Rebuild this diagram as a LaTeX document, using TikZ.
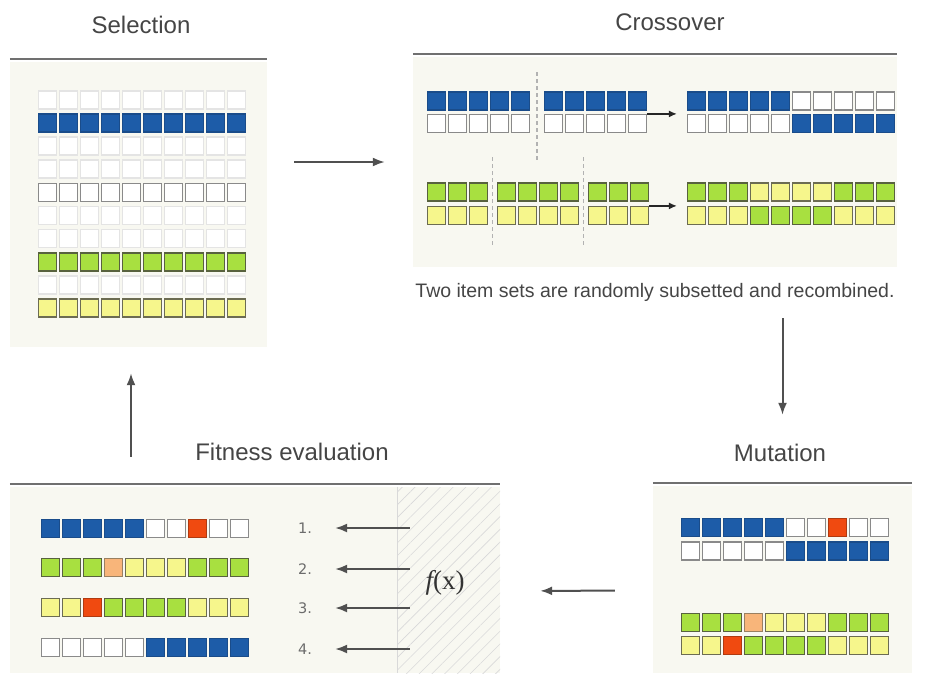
\documentclass[tikz,border=0pt]{standalone}
\usepackage{fontspec}
\setmainfont{Liberation Sans}
\newfontfamily\numfont{DejaVu Sans}
\newfontfamily\fxfont{Liberation Serif}
\usetikzlibrary{positioning,arrows.meta,patterns.meta}

\definecolor{paper}{HTML}{F8F8F1}
\definecolor{txt}{HTML}{454545}
\definecolor{rulegray}{HTML}{707070}
\definecolor{arrgray}{HTML}{505050}
\definecolor{colB}{HTML}{1D5CA8}\definecolor{edgeB}{HTML}{1A4C8A}
\definecolor{colW}{HTML}{FFFFFF}\definecolor{edgeW}{HTML}{8A8A8A}
\definecolor{colF}{HTML}{FFFFFF}\definecolor{edgeF}{HTML}{E4E4E4}
\definecolor{colG}{HTML}{A8E040}\definecolor{edgeG}{HTML}{58623E}
\definecolor{colY}{HTML}{F6F68C}\definecolor{edgeY}{HTML}{6C6C52}
\definecolor{colR}{HTML}{F04A10}\definecolor{edgeR}{HTML}{B03A10}
\definecolor{colO}{HTML}{F8B57A}\definecolor{edgeO}{HTML}{9A8060}

\begin{document}
\begin{tikzpicture}[
  x=1pt, y=-1pt,
  ttl/.style={font=\fontsize{24}{28}\selectfont, text=txt},
  captext/.style={font=\fontsize{19.5}{23}\selectfont, text=txt},
  num/.style={font=\numfont\fontsize{14.5}{16}\selectfont, text=gray!85!black, inner sep=0pt},
  panel/.style={fill=paper, inner sep=0pt},
  rule/.style={draw=rulegray, line width=2pt},
  cell/.style={minimum size=18pt, inner sep=0pt, line width=1.2pt},
  arr/.style={-{Latex[length=12pt,width=9pt]}, line width=2pt, draw=arrgray},
  tip/.style={-{Latex[length=8pt,width=7pt]}, line width=1.4pt, draw=black!85},
  cut/.style={dash pattern=on 4pt off 3pt, line width=1.3pt, draw=gray!60}
]
  \useasboundingbox (0,0) rectangle (928,673);

  % panels and their title rules
  \node[panel, minimum width=257pt, minimum height=285pt] (sel) at (138.5,204.5) {};
  \node[panel, minimum width=484pt, minimum height=210pt] (xo) at (655,162) {};
  \node[panel, minimum width=259pt, minimum height=187pt] (mut) at (782.5,579.5) {};
  \node[panel, minimum width=490pt, minimum height=186pt] (fit) at (255,580) {};
  \node[inner sep=0pt, minimum width=102pt, minimum height=186pt,
        pattern={Lines[angle=45,distance=9pt,line width=0.6pt]}, pattern color=gray!30] (fx) at (449,580) {};
  \draw[draw=gray!30, line width=0.8pt] (fx.north west) -- (fx.south west);
  \foreach \p in {sel,xo,mut,fit}
    \draw[rule] ([yshift=3pt]\p.north west) -- ([yshift=3pt]\p.north east);

  \node[ttl] (selT) at (141,25) {Selection};
  \node[ttl] (xoT) at (670,22) {Crossover};
  \node[ttl] (mutT) at (780,453) {Mutation};
  \node[ttl] (fitT) at (292,452) {Fitness evaluation};
  \node[captext] (capt) at (655,292) {Two item sets are randomly subsetted and recombined.};

  % item sets, one row per entry: name/left/y/cells
  \foreach \r/\x/\y/\cols in {
    s1/38/100/{F,F,F,F,F,F,F,F,F,F}, s2/38/123/{B,B,B,B,B,B,B,B,B,B},
    s3/38/146/{F,F,F,F,F,F,F,F,F,F}, s4/38/169/{F,F,F,F,F,F,F,F,F,F},
    s5/38/192.5/{W,W,W,W,W,W,W,W,W,W}, s6/38/215.5/{F,F,F,F,F,F,F,F,F,F},
    s7/38/238.5/{F,F,F,F,F,F,F,F,F,F}, s8/38/262/{G,G,G,G,G,G,G,G,G,G},
    s9/38/285/{F,F,F,F,F,F,F,F,F,F}, s10/38/308/{Y,Y,Y,Y,Y,Y,Y,Y,Y,Y},
    c1a/427/101/{B,B,B,B,B}, c1b/544/101/{B,B,B,B,B},
    c2a/427/123.5/{W,W,W,W,W}, c2b/544/123.5/{W,W,W,W,W},
    c1r/687/101/{B,B,B,B,B,W,W,W,W,W}, c2r/687/123.5/{W,W,W,W,W,B,B,B,B,B},
    c3a/427/192/{G,G,G}, c3b/497/192/{G,G,G,G}, c3c/588/192/{G,G,G},
    c4a/427/215.5/{Y,Y,Y}, c4b/497/215.5/{Y,Y,Y,Y}, c4c/588/215.5/{Y,Y,Y},
    c3r/687/192/{G,G,G,Y,Y,Y,Y,G,G,G}, c4r/687/215.5/{Y,Y,Y,G,G,G,G,Y,Y,Y},
    m1/681/527.5/{B,B,B,B,B,W,W,R,W,W}, m2/681/551/{W,W,W,W,W,B,B,B,B,B},
    m3/681/622.5/{G,G,G,O,Y,Y,Y,G,G,G}, m4/681/645.5/{Y,Y,R,G,G,G,G,Y,Y,Y},
    f1/41/528.5/{B,B,B,B,B,W,W,R,W,W}, f2/41/567.5/{G,G,G,O,Y,Y,Y,G,G,G},
    f3/41/607.5/{Y,Y,R,G,G,G,G,Y,Y,Y}, f4/41/647.5/{W,W,W,W,W,B,B,B,B,B}}{
    \foreach \c [count=\i] in \cols
      \node[cell, fill=col\c, draw=edge\c] (\r-\i) at (\x+21*\i-11.5,\y) {};
  }

  % cut points
  \draw[cut] (537,72) -- (537,160);
  \draw[cut] (492.5,157) -- (492.5,247);
  \draw[cut] (583.5,157) -- (583.5,247);
  \draw[tip, shorten >=10pt] (c2b-5.north east) -- (c2b-5.north east -| c2r-1.west);
  \draw[tip, shorten >=10pt] (c4c-3.north east) -- (c4c-3.north east -| c4r-1.west);

  % fitness ranking
  \node[font=\fxfont\fontsize{27}{30}\selectfont, text=black!80] (fxt) at (445,583) {\itshape f\upshape(x)};
  \foreach \k/\y in {1/528,2/569,3/608,4/649}
    \node[num] (n\k) at (305,\y) {\k.};
  \foreach \k in {1,...,4}
    \draw[arr, shorten >=23pt] ([xshift=12pt]fx.west |- n\k) -- (n\k);

  % cycle
  \draw[arr, shorten <=27pt, shorten >=28pt] (sel.east |- xo.west) -- (xo.west);
  \draw[arr, shorten <=51pt, shorten >=71pt] (xo.south -| mut.north) -- (mut.north);
  \draw[arr, shorten <=38pt, shorten >=40pt] ([yshift=-11pt]mut.west) -- ([yshift=-11pt]fit.east);
  \draw[arr, shorten <=30pt, shorten >=26pt] ([xshift=-7.5pt]sel.south |- fit.north) -- ([xshift=-7.5pt]sel.south);
\end{tikzpicture}
\end{document}
